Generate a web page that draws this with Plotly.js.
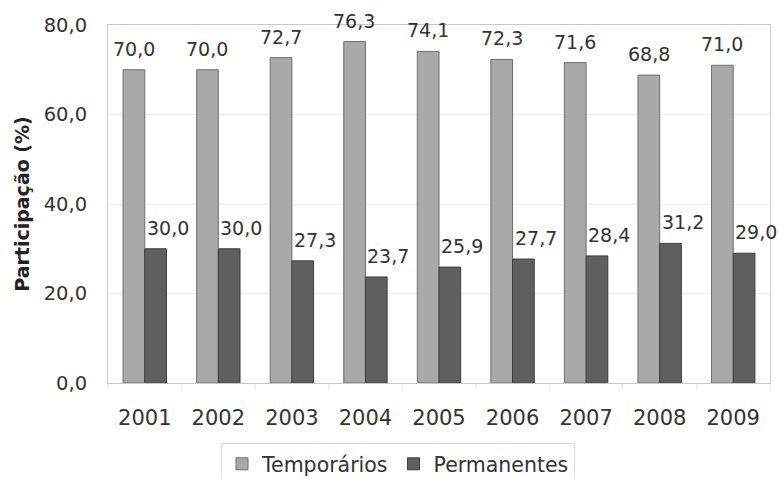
<!DOCTYPE html>
<html>
<head>
<meta charset="utf-8">
<script src="https://cdn.plot.ly/plotly-3.0.1.min.js"></script>
<style>html,body{margin:0;padding:0;background:#fff;}#chart{width:779px;height:479px;}</style>
</head>
<body>
<div id="chart"></div>
<script>
const years = ['2001','2002','2003','2004','2005','2006','2007','2008','2009'];
const temporarios = [70.0, 70.0, 72.7, 76.3, 74.1, 72.3, 71.6, 68.8, 71.0];
const permanentes = [30.0, 30.0, 27.3, 23.7, 25.9, 27.7, 28.4, 31.2, 29.0];
const yTicks = [0, 20, 40, 60, 80];

const FONT = 'DejaVu Sans, Liberation Sans, Arial, sans-serif';
const fmt = v => v.toFixed(1).replace('.', ',');

const traces = [
  {type:'bar', name:'Temporários', x: years, y: temporarios,
   marker:{color:'#a9a9a9', line:{color:'#6e6e6e', width:1}}, hoverinfo:'skip'},
  {type:'bar', name:'Permanentes', x: years, y: permanentes,
   marker:{color:'#5f5f5f', line:{color:'#3e3e3e', width:1}}, hoverinfo:'skip'}
];

const annotations = [];
years.forEach((yr, i) => {
  annotations.push({x: i, y: temporarios[i], xref:'x', yref:'y', text: fmt(temporarios[i]),
    showarrow:false, xanchor:'center', yanchor:'bottom', xshift:-11, yshift:8,
    font:{family:FONT, size:19, color:'#333'}});
  annotations.push({x: i, y: permanentes[i], xref:'x', yref:'y', text: fmt(permanentes[i]),
    showarrow:false, xanchor:'center', yanchor:'bottom', xshift:23, yshift:8,
    font:{family:FONT, size:19, color:'#333'}});
});

const layout = {
  width:779, height:479,
  margin:{l:108, r:9, t:25, b:96},
  paper_bgcolor:'#fff', plot_bgcolor:'#fff',
  separators:',.',
  barmode:'group', bargap:0.41, bargroupgap:0,
  font:{family:FONT, size:20, color:'#333'},
  xaxis:{type:'category', range:[-0.5, 8.5], showline:true, linecolor:'#c8c8c8', linewidth:1, mirror:true,
    ticks:'outside', tickson:'boundaries', ticklen:5, tickcolor:'#e4e4e4',
    ticklabelstandoff:16,
    tickfont:{family:FONT, size:21, color:'#333'}, showgrid:false, fixedrange:true},
  yaxis:{range:[0,80], tickvals:yTicks, tickformat:'.1f', showgrid:true, gridcolor:'#eeeeee',
    zeroline:false, showline:true, linecolor:'#d0d0d0', mirror:true, ticks:'',
    ticklabelstandoff:16,
    tickfont:{family:FONT, size:19.5, color:'#333'},
    title:{text:'<b>Participação (%)</b>', font:{family:FONT, size:19, color:'#222'}, standoff:9}},
  legend:{orientation:'h', xref:'container', x:398/779, xanchor:'center',
    yref:'container', y:(479-443)/479, yanchor:'top',
    bordercolor:'#dcdcdc', borderwidth:1, font:{family:FONT, size:20.5, color:'#333'},
    itemwidth:30, traceorder:'normal'},
  showlegend:true,
  annotations: annotations
};

Plotly.newPlot('chart', traces, layout, {displayModeBar:false, staticPlot:true});
</script>
</body>
</html>
